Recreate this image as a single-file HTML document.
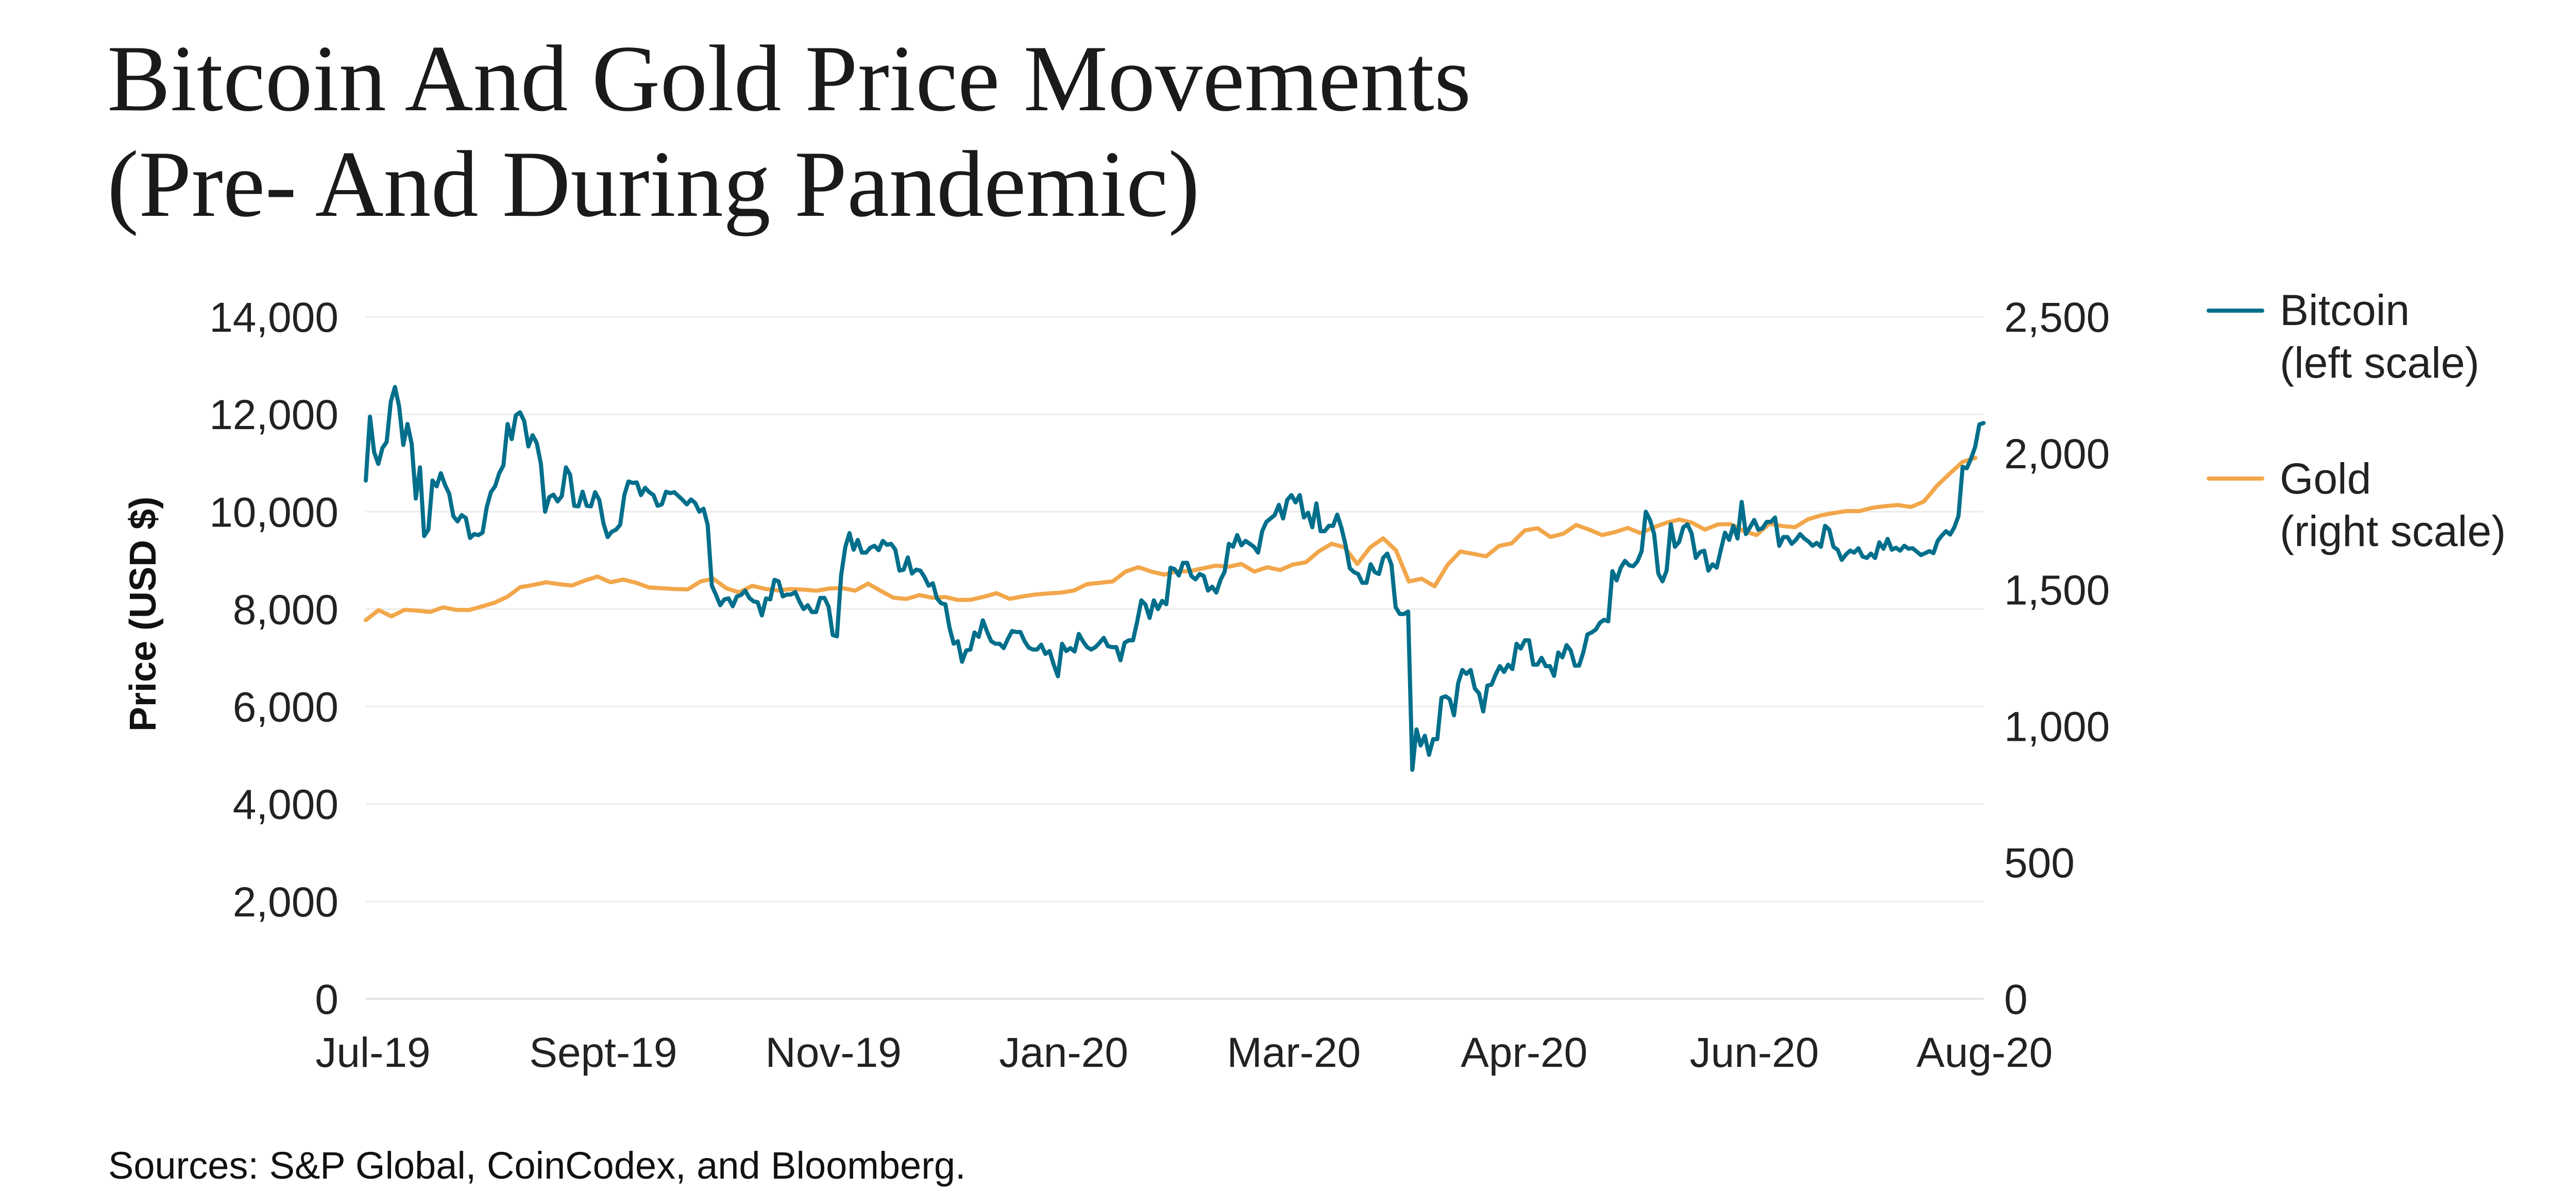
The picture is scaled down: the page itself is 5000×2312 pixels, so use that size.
<!DOCTYPE html>
<html><head><meta charset="utf-8">
<style>
html,body{margin:0;padding:0;background:#fff;}
svg{display:block;}
</style></head>
<body>
<svg id="chart" width="5000" height="2312" viewBox="0 0 5000 2312" xmlns="http://www.w3.org/2000/svg">
  <g font-family="'Liberation Serif', serif" font-size="184" fill="#1a1a1a">
    <text x="208" y="214">Bitcoin And Gold Price Movements</text>
    <text x="208" y="419">(Pre- And During Pandemic)</text>
  </g>
  <g id="grid"></g>
  <g id="yleft" font-family="'Liberation Sans', sans-serif" font-size="82" fill="#222" text-anchor="end"></g>
  <g id="yright" font-family="'Liberation Sans', sans-serif" font-size="82" fill="#222"></g>
  <g id="xaxis" font-family="'Liberation Sans', sans-serif" font-size="82" fill="#222" text-anchor="middle"></g>
  <text transform="translate(302,1192) rotate(-90)" text-anchor="middle" font-family="'Liberation Sans', sans-serif" font-weight="bold" font-size="72" fill="#111">Price (USD $)</text>
  <g id="series"></g>
  <g font-family="'Liberation Sans', sans-serif" font-size="84" fill="#222">
    <g>
      <line x1="4287" y1="603" x2="4391" y2="603" stroke="#016f8b" stroke-width="8" stroke-linecap="round"/>
      <text x="4425" y="631">Bitcoin</text>
      <text x="4425" y="733">(left scale)</text>
    </g>
    <g>
      <line x1="4287" y1="929" x2="4391" y2="929" stroke="#f2a74b" stroke-width="8" stroke-linecap="round"/>
      <text x="4425" y="958">Gold</text>
      <text x="4425" y="1060">(right scale)</text>
    </g>
  </g>
  <text x="210" y="2288" font-family="'Liberation Sans', sans-serif" font-size="74" fill="#111">Sources: S&amp;P Global, CoinCodex, and Bloomberg.</text>
</svg>
<script>
const leftTicks = [0,2000,4000,6000,8000,10000,12000,14000];
const leftTickLabels = ["0","2,000","4,000","6,000","8,000","10,000","12,000","14,000"];
const rightTicks = [0,500,1000,1500,2000,2500];
const rightTickLabels = ["0","500","1,000","1,500","2,000","2,500"];
const xTickLabels = ["Jul-19","Sept-19","Nov-19","Jan-20","Mar-20","Apr-20","Jun-20","Aug-20"];
const bitcoin = [10640,11950,11220,10980,11310,11430,12260,12560,12160,11370,
11800,11400,10270,10910,9500,9630,10640,10520,10790,10550,
10370,9910,9800,9930,9870,9460,9540,9520,9570,10090,
10400,10520,10790,10950,11800,11490,11980,12040,11860,11340,
11570,11410,10980,10000,10300,10350,10210,10320,10910,10760,
10120,10110,10410,10120,10110,10400,10240,9760,9480,9590,
9630,9730,10340,10620,10590,10600,10340,10490,10400,10340,
10120,10150,10410,10380,10400,10320,10240,10150,10250,10180,
10000,10060,9730,8480,8290,8080,8200,8220,8060,8260,
8290,8380,8230,8160,8140,7870,8220,8200,8600,8570,
8260,8300,8300,8350,8160,8000,8080,7940,7940,8230,
8230,8050,7470,7440,8690,9270,9560,9220,9420,9160,
9160,9260,9300,9210,9400,9320,9340,9220,8790,8810,
9060,8730,8810,8790,8660,8480,
8530,8220,8120,8100,7620,7290,7340,6920,7150,7170,
7520,7430,7770,7540,7340,7290,7290,7200,7390,7550,
7530,7530,7340,7210,7170,7170,7270,7080,7140,6860,
6620,7290,7140,7200,7130,7490,7340,7220,7170,7220,
7310,7410,7240,7220,7220,6950,7310,7360,7360,7740,
8180,8090,7820,8180,8000,8170,8100,8850,8820,8690,
8950,8950,8680,8610,8720,8680,8380,8460,8340,8600,
8770,9340,9280,9520,9310,9400,9340,9280,9160,9600,
9790,9860,9930,10140,9860,10240,10340,10190,10340,9880,
9980,9680,10170,9600,9600,9710,9710,9940,9670,9310,
8840,8760,8720,8540,8540,8920,8760,8720,9050,9140,
8910,8040,7900,7900,7950,4700,5530,5200,5400,5010,
5330,5330,6180,6210,6150,5820,6480,6750,6670,6750,6370,6270,
5900,6430,6450,6660,6830,6710,6860,6770,7290,7190,
7360,7360,6860,6860,7000,6830,6830,6630,7110,7010,
7260,7150,6840,6840,7110,7480,7520,7580,7720,7780,
7750,8780,8590,8850,8990,8900,8880,8980,9190,10000,
9830,9540,8730,8570,8790,9740,9280,9380,9680,9740,
9550,9050,9170,9200,8790,8920,8850,9220,9570,9420,
9710,9450,10200,9540,9680,9830,9630,9660,9790,9790,
9880,9300,9480,9480,9340,9420,9540,9450,9390,9300,
9360,9280,9710,9630,9280,9220,9010,9120,9200,9160,
9250,9080,9050,9140,9050,9370,9240,9440,9220,9260,
9200,9300,9240,9250,9180,9110,9150,9190,9150,9400,
9510,9600,9530,9680,9910,10920,10890,11090,11330,11790,11820];
const gold = [1388,1425,1402,1426,1423,1418,1435,1426,1425,1438,1452,1474,1509,1517,1527,1520,1515,1533,1548,1527,1537,1525,1508,1505,1502,1501,1530,1540,1505,1490,1514,1503,1497,1502,1500,1496,1504,1506,1496,1522,1495,1470,1466,1480,
1470,1473,1462,1463,1474,1487,1466,1475,1482,1486,1489,1497,1520,1525,1530,1566,1582,1566,1555,1567,1568,1578,1588,1584,1594,1566,1582,1572,1592,1600,1640,1668,1655,1594,1655,1688,1644,1530,1540,1512,1590,1640,
1631,1622,1660,1670,1717,1725,1693,1705,1737,1720,1700,1711,1726,1707,1728,1745,1757,1745,1720,1739,1740,1715,1700,1742,1733,1729,1758,1772,1781,1788,1788,1800,1806,1810,1803,1823,1880,1925,1968,1983];

const NS = "http://www.w3.org/2000/svg";
const X0 = 710, X1 = 3850, Y0 = 1939, Y1 = 615;
const LEFT_MAX = 14000, RIGHT_MAX = 2500;
function xScale(t){ return X0 + t*(X1 - X0); }
function yLeft(v){ return Y0 - v/LEFT_MAX*(Y0 - Y1); }
function yRight(v){ return Y0 - v/RIGHT_MAX*(Y0 - Y1); }
function mk(tag, attrs, parent){
  const e = document.createElementNS(NS, tag);
  for (const k in attrs) e.setAttribute(k, attrs[k]);
  parent.appendChild(e);
  return e;
}
const grid = document.getElementById('grid');
const yl = document.getElementById('yleft');
const yr = document.getElementById('yright');
const xa = document.getElementById('xaxis');
const series = document.getElementById('series');

leftTicks.forEach((v,i)=>{
  const y = yLeft(v);
  const g = mk('line',{x1:X0,x2:X1,y1:y,y2:y,stroke:v===0?'#dcdcdc':'#ececec','stroke-width':3},grid);
  
  
  const t = mk('text',{x:657,y:y+29},yl);
  t.textContent = leftTickLabels[i];
  
  
});
rightTicks.forEach((v,i)=>{
  const t = mk('text',{x:3890,y:yRight(v)+29},yr);
  t.textContent = rightTickLabels[i];
  
  
});
const xStart = 724, xEnd = 3852;
xTickLabels.forEach((lab,i)=>{
  const x = xStart + i*(xEnd - xStart)/(xTickLabels.length-1);
  const t = mk('text',{x:x,y:2071},xa);
  t.textContent = lab;
  
  
});

function path(vals, yfn, tEnd){
  return vals.map((v,i)=>(i?'L':'M')+xScale(tEnd*i/(vals.length-1)).toFixed(1)+','+yfn(v).toFixed(1)).join(' ');
}
const gp = mk('path',{d:path(gold,yRight,0.995),fill:'none',stroke:'#f2a74b','stroke-width':8,'stroke-linejoin':'round','stroke-linecap':'round'},series);


const bp = mk('path',{d:path(bitcoin,yLeft,1),fill:'none',stroke:'#016f8b','stroke-width':8,'stroke-linejoin':'round','stroke-linecap':'round'},series);


</script>
</body></html>
